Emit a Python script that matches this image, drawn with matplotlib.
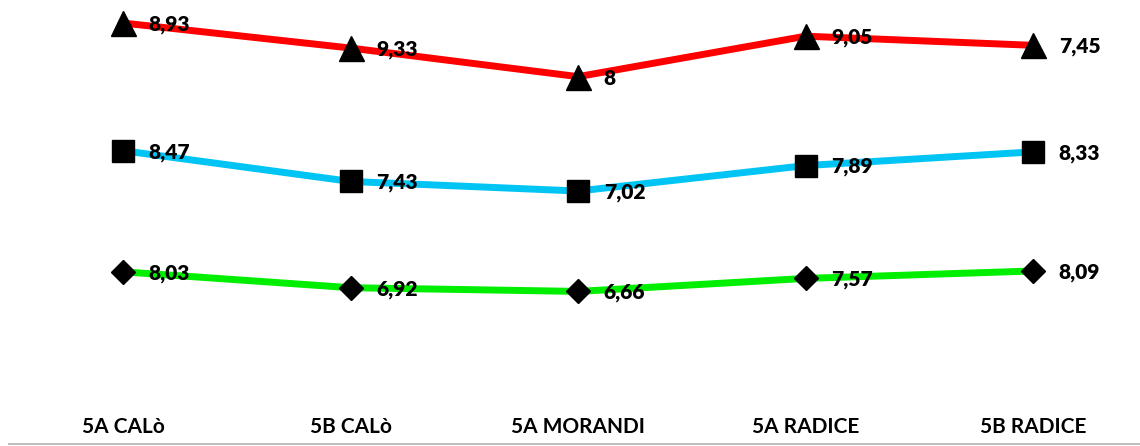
import matplotlib
matplotlib.use('Agg')
import matplotlib.pyplot as plt

# categories and values (stacked line chart)
classes = ['5A CALò', '5B CALò', '5A MORANDI', '5A RADICE', '5B RADICE']
green_vals = [8.03, 6.92, 6.66, 7.57, 8.09]
blue_vals = [8.47, 7.43, 7.02, 7.89, 8.33]
red_vals = [8.93, 9.33, 8.00, 9.05, 7.45]

series = [
    (green_vals, '#00EE00', 'D', 12.5),
    (blue_vals, '#00C4F4', 's', 16),
    (red_vals, '#FF0000', '^', 18),
]

def fmt(v):
    s = f'{v:.2f}'.rstrip('0').rstrip('.')
    return s.replace('.', ',')

plt.rcParams['font.family'] = ['Lato', 'DejaVu Sans']

fig = plt.figure(figsize=(11.4, 4.46), dpi=100)
ax = fig.add_axes([0, 0, 1, 1])
ax.set_xlim(-0.541, 4.47)
ax.set_ylim(-4.15, 27.04)
ax.axis('off')

x = list(range(len(classes)))
base = [0.0] * len(classes)
for vals, color, marker, ms in series:
    top = [b + v for b, v in zip(base, vals)]
    ax.plot(x, top, color=color, lw=5, solid_capstyle='butt', zorder=2)
    ax.plot(x, top, ls='none', marker=marker, ms=ms, color='black', zorder=3)
    for xi, yi, v in zip(x, top, vals):
        ax.annotate(fmt(v), (xi, yi), xytext=(18.5, -1), textcoords='offset points',
                    ha='left', va='center', fontsize=15, fontweight='heavy', zorder=4)
    base = top

# category labels and the bottom rule
for xi, name in zip(x, classes):
    ax.text(xi, 0.043, name, transform=ax.get_xaxis_transform(), ha='center', va='center',
            fontsize=15, fontweight='bold')
ax.plot([0.008, 1.0], [0.004, 0.004], transform=ax.transAxes, color='#BFBFBF', lw=1.5,
        clip_on=False)

fig.savefig('out.png', dpi=100)
